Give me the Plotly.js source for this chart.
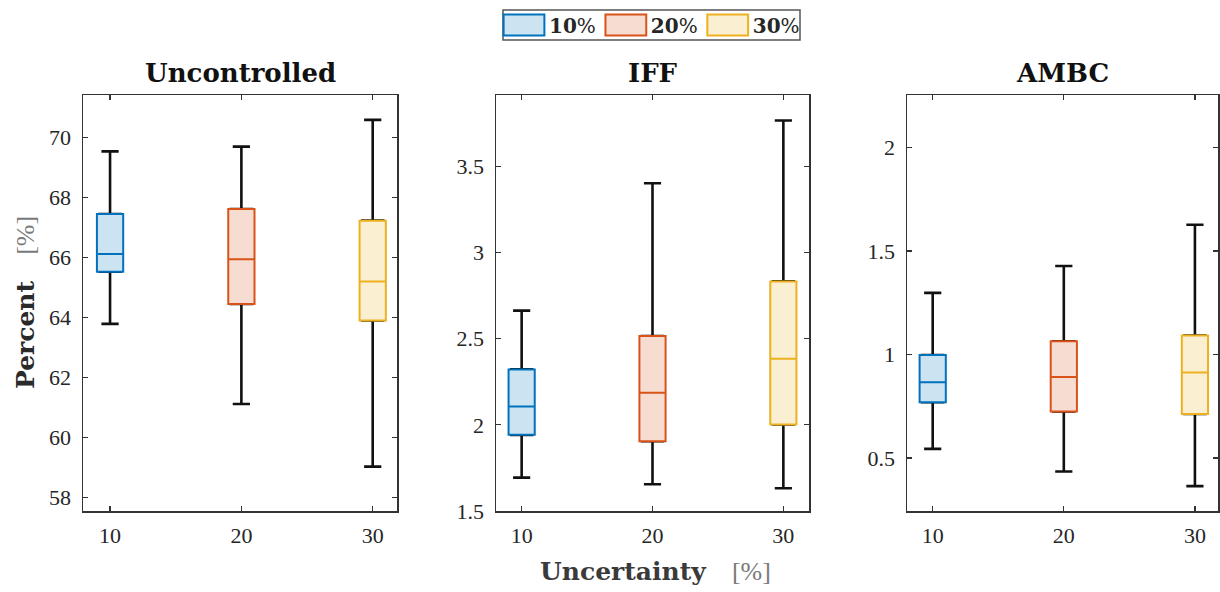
<!DOCTYPE html>
<html>
<head>
<meta charset="utf-8">
<script src="https://cdn.plot.ly/plotly-3.0.1.min.js"></script>
<style>
  html, body { margin: 0; padding: 0; background: #fff; }
  #chart { width: 1220px; height: 592px; }
</style>
</head>
<body>
<div id="chart"></div>
<script>
// ---------------- data ----------------
const uncertainty = [10, 20, 30];
const seriesNames = ['<b>10</b>%', '<b>20</b>%', '<b>30</b>%'];
const panelTitles = ['Uncontrolled', 'IFF', 'AMBC'];

// Uncontrolled
const uncLow = [63.78, 61.11, 59.02];
const uncQ1  = [65.52, 64.44, 63.89];
const uncMed = [66.11, 65.93, 65.19];
const uncQ3  = [67.44, 67.61, 67.22];
const uncHigh = [69.53, 69.69, 70.58];

// IFF
const iffLow = [1.694, 1.655, 1.632];
const iffQ1  = [1.942, 1.905, 2.002];
const iffMed = [2.106, 2.186, 2.384];
const iffQ3  = [2.322, 2.516, 2.833];
const iffHigh = [2.663, 3.403, 3.767];

// AMBC
const ambcLow = [0.544, 0.435, 0.364];
const ambcQ1  = [0.770, 0.725, 0.713];
const ambcMed = [0.866, 0.892, 0.913];
const ambcQ3  = [0.998, 1.064, 1.092];
const ambcHigh = [1.298, 1.428, 1.627];

// ---------------- styles ----------------
const lineColors = ['#0072BD', '#D95319', '#EDB120'];
const fillColors = ['rgb(204,227,242)', 'rgb(247,221,209)', 'rgb(251,239,210)'];

const panels = [
  {low: uncLow, q1: uncQ1, med: uncMed, q3: uncQ3, high: uncHigh},
  {low: iffLow, q1: iffQ1, med: iffMed, q3: iffQ3, high: iffHigh},
  {low: ambcLow, q1: ambcQ1, med: ambcMed, q3: ambcQ3, high: ambcHigh}
];

const W = 1220, H = 592;
const xPix = [[83, 397], [496, 809], [907, 1218]];
const plotTop = 95, plotBottom = 511;
const xRanges = [[7.94, 31.85], [8.04, 31.96], [8.04, 31.76]];
const yRanges = [[57.54, 71.41], [1.5, 3.915], [0.244, 2.254]];
const yDticks = [2, 0.5, 0.5];
const yTick0 = [58, 1.5, 0.5];

const traces = [];
panels.forEach((p, pi) => {
  const ax = pi === 0 ? '' : String(pi + 1);
  uncertainty.forEach((u, gi) => {
    // whiskers (black)
    traces.push({
      type: 'box',
      xaxis: 'x' + ax, yaxis: 'y' + ax,
      x: [u], q1: [p.q1[gi]], median: [p.med[gi]], q3: [p.q3[gi]],
      lowerfence: [p.low[gi]], upperfence: [p.high[gi]],
      width: 1.6, whiskerwidth: 0.82,
      line: {color: '#111111', width: 2.6},
      fillcolor: 'rgba(0,0,0,0)',
      showlegend: false, hoverinfo: 'skip', boxpoints: false
    });
    // coloured box
    traces.push({
      type: 'box',
      xaxis: 'x' + ax, yaxis: 'y' + ax,
      name: seriesNames[gi], legendgroup: 'g' + gi,
      x: [u], q1: [p.q1[gi]], median: [p.med[gi]], q3: [p.q3[gi]],
      lowerfence: [p.q1[gi]], upperfence: [p.q3[gi]],
      width: 2.0, whiskerwidth: 0,
      line: {color: lineColors[gi], width: 2},
      fillcolor: fillColors[gi],
      showlegend: pi === 0, hoverinfo: 'skip', boxpoints: false
    });
  });
});

const tickFont = {family: '"Liberation Serif", "Times New Roman", Times, serif', size: 22, color: '#262626'};
const unitSpan = '<span style="color:#7a7a7a;font-family:\'Liberation Serif\';font-weight:normal;font-size:26px">[%]</span>';
const layout = {
  width: W, height: H,
  margin: {l: 0, r: 0, t: 0, b: 0},
  paper_bgcolor: '#ffffff', plot_bgcolor: '#ffffff',
  boxmode: 'overlay',
  showlegend: true,
  legend: {
    orientation: 'h', x: 652 / W, xanchor: 'center', y: 1 - 25 / H, yanchor: 'middle',
    borderwidth: 0, bgcolor: 'rgba(0,0,0,0)',
    font: {family: '"DejaVu Serif", serif', size: 20, color: '#262626'},
    itemwidth: 40, tracegroupgap: 0
  },
  annotations: [],
  shapes: [{
    type: 'rect', xref: 'paper', yref: 'paper', layer: 'above',
    x0: 503 / W, x1: 800 / W, y0: 1 - 40 / H, y1: 1 - 10 / H,
    line: {color: '#555555', width: 1.5}, fillcolor: 'rgba(0,0,0,0)'
  }]
};

panels.forEach((p, pi) => {
  const ax = pi === 0 ? '' : String(pi + 1);
  const dom = [xPix[pi][0] / W, xPix[pi][1] / W];
  layout['xaxis' + ax] = {
    domain: dom, range: xRanges[pi], anchor: 'y' + ax,
    tickvals: uncertainty, ticktext: uncertainty.map(String),
    ticks: 'inside', ticklen: 5, tickwidth: 1.2, tickcolor: '#333',
    showline: true, linecolor: '#333333', linewidth: 1.5, mirror: 'ticks',
    showgrid: false, zeroline: false, tickfont: Object.assign({}, tickFont), ticklabelstandoff: 4
  };
  layout['yaxis' + ax] = {
    domain: [1 - plotBottom / H, 1 - plotTop / H], range: yRanges[pi], anchor: 'x' + ax,
    tick0: yTick0[pi], dtick: yDticks[pi],
    ticks: 'inside', ticklen: 5, tickwidth: 1.2, tickcolor: '#333',
    showline: true, linecolor: '#333333', linewidth: 1.5, mirror: 'ticks',
    showgrid: false, zeroline: false, tickfont: Object.assign({}, tickFont), ticklabelstandoff: 6
  };
  layout.annotations.push({
    xref: 'paper', yref: 'paper', x: (dom[0] + dom[1]) / 2, y: 1 - 73 / H,
    xanchor: 'center', yanchor: 'middle', showarrow: false,
    text: '<b>' + panelTitles[pi] + '</b>',
    font: {family: '"DejaVu Serif", serif', size: 26, color: '#111111'}
  });
});

layout.annotations.push({
  xref: 'paper', yref: 'paper', x: 655 / W, y: 1 - 571 / H,
  xanchor: 'center', yanchor: 'middle', showarrow: false,
  text: '<b>Uncertainty&nbsp;&nbsp;&nbsp;</b>' + unitSpan,
  font: {family: '"DejaVu Serif", serif', size: 25, color: '#3a3a3a'}
});
layout.annotations.push({
  xref: 'paper', yref: 'paper', x: 25 / W, y: 1 - 303 / H,
  xanchor: 'center', yanchor: 'middle', showarrow: false, textangle: -90,
  text: '<b>Percent&nbsp;&nbsp;&nbsp;</b>' + unitSpan,
  font: {family: '"DejaVu Serif", serif', size: 25, color: '#2a2a2a'}
});

Plotly.newPlot('chart', traces, layout, {staticPlot: true, displayModeBar: false}).then(() => {
  document.querySelectorAll('.legend .legendpoints path').forEach(path => {
    const t = path.getAttribute('transform') || '';
    path.setAttribute('transform', t + ' scale(3.4,1.75)');
    path.style.vectorEffect = 'non-scaling-stroke';
  });
});
</script>
</body>
</html>
